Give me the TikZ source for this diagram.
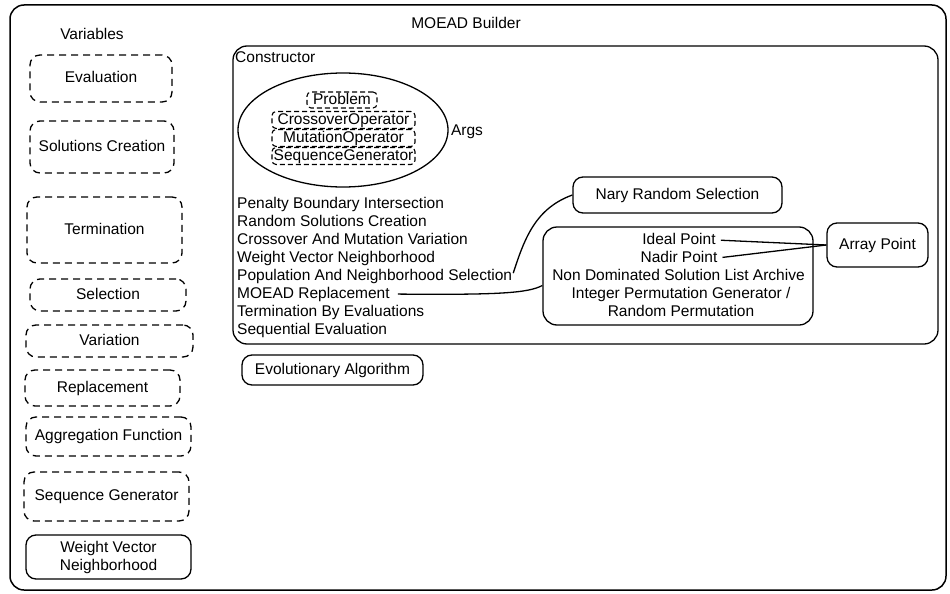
\documentclass[tikz,border=0pt]{standalone}
\usepackage{fontspec}
\setmainfont{Liberation Sans}
\usetikzlibrary{shapes.geometric}
\begin{document}
\begin{tikzpicture}[x=1pt,y=-1pt,
  every node/.style={font=\fontsize{15.5}{18}\selectfont, inner sep=0pt, text height=11pt, text depth=3pt},
  dbox/.style={draw, dash pattern=on 7pt off 5pt, rounded corners=10pt, line width=1.3pt, align=center},
  sbox/.style={draw, rounded corners=10pt, line width=1.3pt, align=center},
  abox/.style={draw, dash pattern=on 5pt off 3pt, rounded corners=4pt, line width=1.1pt, minimum width=143pt, minimum height=17pt},
  item/.style={anchor=west},
  conn/.style={line width=1.3pt}
]
\path[fill=white,use as bounding box] (0,0) rectangle (950,594);

% outer frame
\node[sbox, minimum width=936pt, minimum height=585pt, rounded corners=14pt, line width=1.5pt] (outer) at (478,297.5) {};
\node (title) at (466,25) {MOEAD Builder};
\node (vars) at (92,36) {Variables};

% left variables
\node[dbox, minimum width=142pt, minimum height=47pt] (eval) at (101,78.5) {Evaluation};
\node[dbox, minimum width=144pt, minimum height=52pt] (solc) at (102,147) {Solutions Creation};
\node[dbox, minimum width=155pt, minimum height=66pt] (term) at (104.5,230) {Termination};
\node[dbox, minimum width=156pt, minimum height=32pt] (sel) at (108,295) {Selection};
\node[dbox, minimum width=167pt, minimum height=32pt] (var) at (109.5,341) {Variation};
\node[dbox, minimum width=155pt, minimum height=36pt] (repl) at (102.5,388) {Replacement};
\node[dbox, minimum width=165pt, minimum height=39pt] (aggr) at (108.5,436.5) {Aggregation Function};
\node[dbox, minimum width=165pt, minimum height=49pt] (seqg) at (106.5,496.5) {Sequence Generator};
\node[sbox, minimum width=165pt, minimum height=44pt, text height=, text depth=] (wvn) at (108.5,557) {Weight Vector\\Neighborhood};

% constructor
\node[sbox, minimum width=705pt, minimum height=298pt, rounded corners=14pt] (ctor) at (585.5,195) {};
\node[anchor=west] (ctorlbl) at (235,59) {Constructor};

\node[ellipse, draw, line width=1.3pt, minimum width=210pt, minimum height=114pt] (args) at (343,130) {};
\node (argslbl) at (467,131) {Args};
\node[abox, minimum width=70pt, minimum height=16pt] (prob) at (342,100) {Problem};
\node[abox] (cross) at (343.5,120) {CrossoverOperator};
\node[abox] (mut) at (343.5,138) {MutationOperator};
\node[abox] (seq) at (343.5,156) {SequenceGenerator};

\node[item] (pbi) at (237,204) {Penalty Boundary Intersection};
\node[item] (rsc) at (237,222) {Random Solutions Creation};
\node[item] (cmv) at (237,240) {Crossover And Mutation Variation};
\node[item] (wvnl) at (237,258) {Weight Vector Neighborhood};
\node[item] (pns) at (237,276) {Population And Neighborhood Selection};
\node[item] (mr) at (237,294) {MOEAD Replacement};
\node[item] (tbe) at (237,312) {Termination By Evaluations};
\node[item] (se) at (237,330) {Sequential Evaluation};

\node[sbox, minimum width=181pt, minimum height=30pt] (ea) at (332.5,370) {Evolutionary Algorithm};

\node[sbox, minimum width=209pt, minimum height=36pt] (nary) at (677.5,195) {Nary Random Selection};
\node[sbox, minimum width=270pt, minimum height=98pt, rounded corners=14pt] (pts) at (678,276) {};
\node (ideal) at (679,240) {Ideal Point};
\node (nadir) at (679,258) {Nadir Point};
\node (ndsl) at (678.5,276) {Non Dominated Solution List Archive};
\node (ipg) at (681,294) {Integer Permutation Generator /};
\node (rp) at (681,312) {Random Permutation};
\node[sbox, minimum width=101pt, minimum height=44pt] (arr) at (877.5,245) {Array Point};

% connectors
\draw[conn, shorten <=5pt] (ideal.east) -- (arr.west);
\draw[conn, shorten <=5pt] (nadir.east) -- (arr.west);
\draw[conn, shorten <=3pt] (pns.east) to[out=72, in=200] (nary.west);
\draw[conn, shorten <=8pt] (mr.east) .. controls (500,295) and (528,293) .. (pts.184);
\end{tikzpicture}
\end{document}
